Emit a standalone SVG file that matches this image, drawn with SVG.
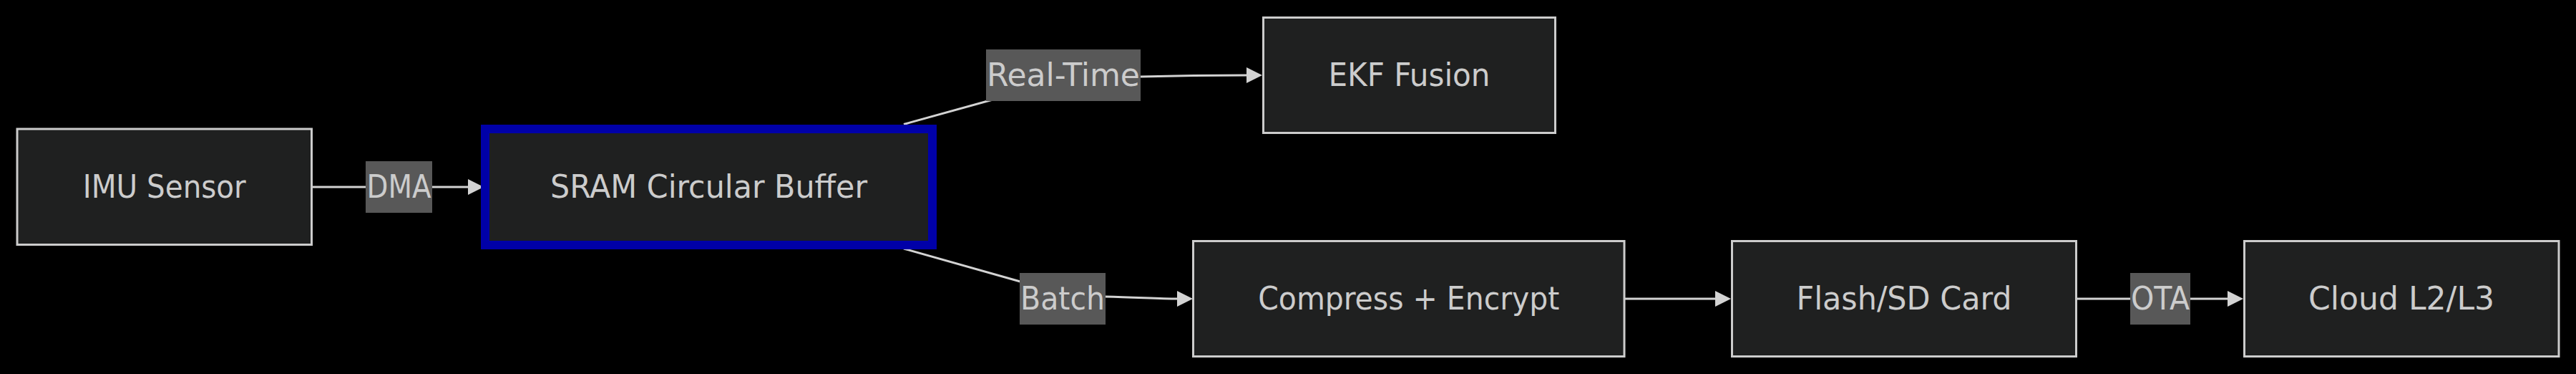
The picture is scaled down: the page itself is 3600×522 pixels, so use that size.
<svg xmlns="http://www.w3.org/2000/svg" width="3600" height="522" viewBox="0 0 3600 522">
<style>
.bg{fill:#000000}
.node rect{fill:#1f2020;stroke:#cccccc;stroke-width:3}
.node.hl rect{stroke:#0000a8;stroke-width:12}
.node text,.elabel text{font-family:"DejaVu Sans Condensed","DejaVu Sans",sans-serif;font-size:45px;fill:#cccccc;text-anchor:middle}
.edge{fill:none;stroke:#d3d3d3;stroke-width:3}
.elabel rect{fill:#585858}
</style>
<defs>
<marker id="arr" viewBox="0 0 10 10" refX="0" refY="5" markerWidth="22" markerHeight="25" markerUnits="userSpaceOnUse" orient="auto">
<path d="M0,0 L10,5 L0,10 z" fill="#d3d3d3"/>
</marker>
</defs>
<rect class="bg" x="0" y="0" width="3600" height="522"/>
<g id="connectors">
<path class="edge" d="M436,261 L654,261" marker-end="url(#arr)"/>
<path class="edge" d="M1263,173.5 L1440,124.5 C1480,113 1520,107 1594,107 C1650,105.5 1700,105 1742,105" marker-end="url(#arr)"/>
<path class="edge" d="M1263,347 L1440,397 C1480,409 1510,414 1545,414 C1590,415 1620,417 1645,417" marker-end="url(#arr)"/>
<path class="edge" d="M2270,417 L2397,417" marker-end="url(#arr)"/>
<path class="edge" d="M2902,417 L3113,417" marker-end="url(#arr)"/>
</g>
<g id="edge-labels">
<g class="elabel" id="label-dma"><rect x="511" y="225" width="93" height="72"/><text x="557.5" y="276" textLength="90" lengthAdjust="spacingAndGlyphs">DMA</text></g>
<g class="elabel" id="label-realtime"><rect x="1378" y="69" width="216" height="72"/><text x="1486" y="120" textLength="214" lengthAdjust="spacingAndGlyphs">Real-Time</text></g>
<g class="elabel" id="label-batch"><rect x="1425" y="381" width="120" height="72"/><text x="1485" y="432" textLength="118" lengthAdjust="spacingAndGlyphs">Batch</text></g>
<g class="elabel" id="label-ota"><rect x="2977" y="381" width="84" height="72"/><text x="3019" y="432" textLength="82" lengthAdjust="spacingAndGlyphs">OTA</text></g>
</g>
<g class="node" id="imu"><rect x="24" y="180" width="411.5" height="161.5"/><text x="229.75" y="276" textLength="228" lengthAdjust="spacingAndGlyphs">IMU Sensor</text></g>
<g class="node hl" id="sram"><rect x="678" y="180" width="625" height="162"/><text x="990.5" y="276" textLength="443" lengthAdjust="spacingAndGlyphs">SRAM Circular Buffer</text></g>
<g class="node" id="ekf"><rect x="1765.5" y="24.5" width="408" height="161"/><text x="1969.5" y="120" textLength="226" lengthAdjust="spacingAndGlyphs">EKF Fusion</text></g>
<g class="node" id="compress"><rect x="1667.5" y="336.5" width="602.5" height="161"/><text x="1968.75" y="432" textLength="421" lengthAdjust="spacingAndGlyphs">Compress + Encrypt</text></g>
<g class="node" id="flash"><rect x="2420.5" y="336.5" width="481" height="161"/><text x="2661" y="432" textLength="301" lengthAdjust="spacingAndGlyphs">Flash/SD Card</text></g>
<g class="node" id="cloud"><rect x="3136.5" y="336.5" width="439.5" height="161"/><text x="3356" y="432" textLength="260" lengthAdjust="spacingAndGlyphs">Cloud L2/L3</text></g>
</svg>
